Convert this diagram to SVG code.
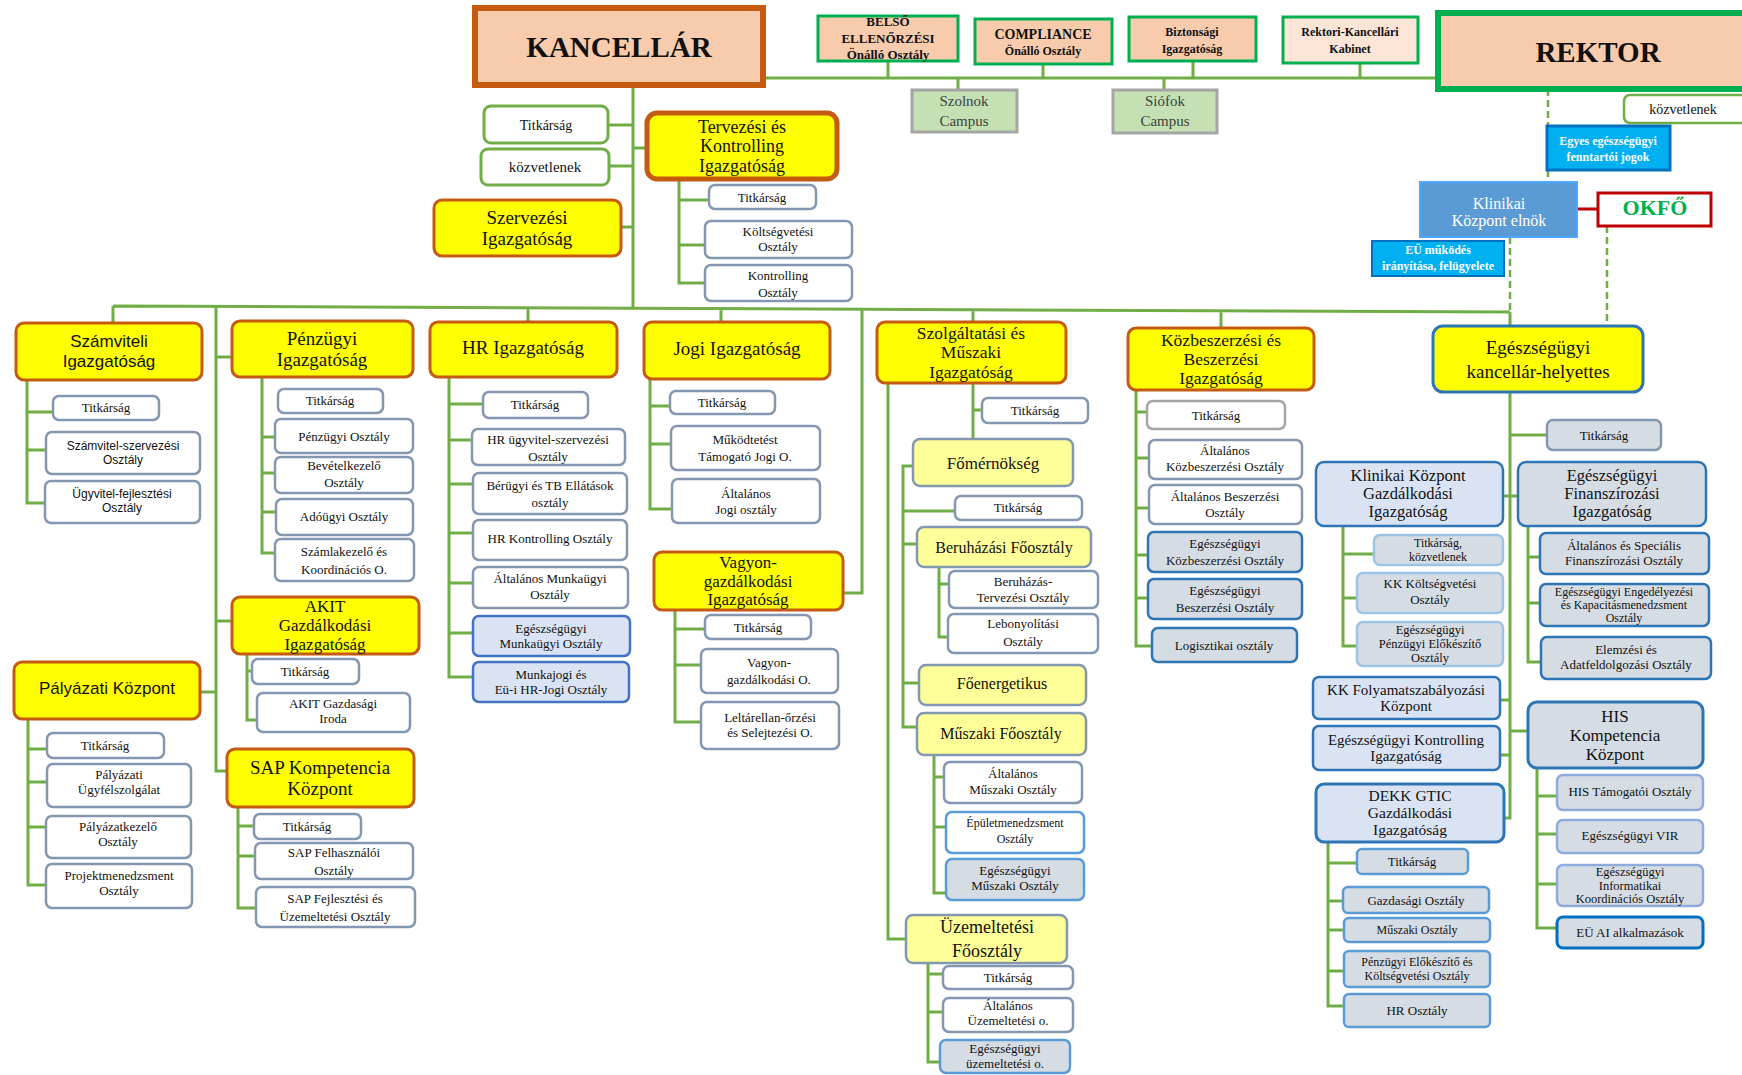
<svg xmlns="http://www.w3.org/2000/svg" width="1742" height="1075" viewBox="0 0 1742 1075">
<style>
text{font-family:"Liberation Serif","Times New Roman",serif;fill:#111;text-anchor:middle}
.sans{font-family:"Liberation Sans",Arial,sans-serif}
.b{font-weight:bold}
.w{fill:#fff}
.f11{font-size:11.5px}.f12{font-size:12px}.f125{font-size:12.5px}.f13{font-size:13px}.f14{font-size:14px}.f15{font-size:15px}.f155{font-size:15.5px}.f16{font-size:16px}.f165{font-size:16.5px}.f17{font-size:17px}.f175{font-size:17.5px}.f18{font-size:18px}.f19{font-size:19px}
.c{fill:none;stroke:#70ad47;stroke-width:3}
.d{fill:none;stroke:#70ad47;stroke-width:2.5;stroke-dasharray:7 4}
.top{fill:#f8cbad;stroke:#00b050;stroke-width:3}
.yb{fill:#ffff00;stroke:#c55a11;stroke-width:3}
.sb{fill:#fff;stroke:#8497b0;stroke-width:2.5}
.lyb{fill:#ffff99;stroke:#8497b0;stroke-width:2.5}
.gb{fill:#d6dce4;stroke:#2e75b6;stroke-width:2.5}
.lbb{fill:#dae3f3;stroke:#2e75b6;stroke-width:2.5}
.gk{fill:#fff;stroke:#70ad47;stroke-width:3}
.cam{fill:#c5e0b3;stroke:#a5a5a5;stroke-width:3}
</style>
<rect width="1742" height="1075" fill="#fff"/>
<g id="connectors">
<path class="c" d="M763,78H1438M888,61V78M1043,64V78M1193,61V78M1360,63V78M958,78V90M1164,78V90"/>
<path class="c" d="M633,85V309M608,125H633M609,166H633M621,227H633M633,148H647"/>
<path class="c" d="M679,179V283H705M679,200H709M679,245H705"/>
<path class="c" d="M113,306L1510,312M113,306V323M528,307.8V322M721,308.6V322M973,309.7V322M1221,310.8V328M1510,312V326"/>
<path class="c" d="M216,306.4V771H227M216,357H232M216,621H232M200,692H216"/>
<path class="c" d="M27,380V503H45M27,412H53M27,450H46"/>
<path class="c" d="M262,377V553H275M262,437H275M262,473H275M262,512H276"/>
<path class="c" d="M247,654V720H257M247,671H252"/>
<path class="c" d="M28,719V885H46M28,749H47M28,782H47M28,827H46"/>
<path class="c" d="M238,807V908H256M238,826H254M238,856H255"/>
<path class="c" d="M449,377V677H473M449,404H483M449,440H472M449,484H473M449,533H473M449,583H473M449,633H473"/>
<path class="c" d="M650,379V509H672M650,406H670M650,444H671"/>
<path class="c" d="M862,309.2V593H843"/>
<path class="c" d="M675,610V722H701M675,629H705M675,665H701"/>
<path class="c" d="M888,383V939H906M973,383V439M973,410H982"/>
<path class="c" d="M913,466H903V727H917M903,511H955M903,544H917M903,683H919"/>
<path class="c" d="M939,567V637H948M939,584H949"/>
<path class="c" d="M934,755V893H946M934,777H944M934,827H946"/>
<path class="c" d="M928,963V1062H940M928,974H943M928,1012H943"/>
<path class="c" d="M1136,390V646H1152M1136,412H1147M1136,458H1149M1136,508H1149M1136,555H1148M1136,598H1148"/>
<path class="c" d="M1510,392V818H1504M1510,435H1547M1503,496H1518M1500,700H1510M1500,755H1510M1510,731H1528"/>
<path class="c" d="M1343,526V646H1357M1343,554H1374M1343,598H1357"/>
<path class="c" d="M1528,526V662H1541M1528,557H1540M1528,603H1540"/>
<path class="c" d="M1328,842V1006H1344M1328,863H1357M1328,901H1343M1328,930H1344M1328,971H1344"/>
<path class="c" d="M1537,768V928H1557M1537,796H1557M1537,834H1557M1537,884H1557"/>
<path class="d" d="M1548,89V126M1548,170V182M1510,237V312M1607,226V326"/>
<path d="M1577,209H1598" fill="none" stroke="#c00000" stroke-width="3"/>
</g>

<g id="n-kancellar"><rect x="475" y="8" width="288" height="77" fill="#f8cbad" stroke="#c55a11" stroke-width="6"/><text class="b" x="619" y="57" style="font-size:29px">KANCELLÁR</text></g>
<g id="n-rektor"><rect x="1438" y="13" width="310" height="76" fill="#f8cbad" stroke="#00b050" stroke-width="6"/><text class="b" x="1598" y="62" style="font-size:29px">REKTOR</text></g>
<g id="n-belso"><rect class="top" x="818" y="16" width="140" height="45"/><text class="b f13"><tspan x="888" y="26">BELSŐ</tspan><tspan x="888" y="43">ELLENŐRZÉSI</tspan><tspan x="888" y="59">Önálló Osztály</tspan></text></g>
<g id="n-compliance"><rect class="top" x="975" y="19" width="137" height="45"/><text class="b"><tspan class="f14" x="1043" y="39">COMPLIANCE</tspan><tspan class="f12" x="1043" y="55">Önálló Osztály</tspan></text></g>
<g id="n-biztonsagi"><rect class="top" x="1129" y="17" width="127" height="44"/><text class="b f12"><tspan x="1192" y="36">Biztonsági</tspan><tspan x="1192" y="53">Igazgatóság</tspan></text></g>
<g id="n-kabinet"><rect class="top" x="1283" y="17" width="135" height="46" style="fill:#fce4d6"/><text class="b f12"><tspan x="1350" y="36">Rektori-Kancellári</tspan><tspan x="1350" y="53">Kabinet</tspan></text></g>
<g id="n-szolnok"><rect class="cam" x="912" y="90" width="105" height="42"/><text class="f15" style="fill:#404040"><tspan x="964" y="106">Szolnok</tspan><tspan x="964" y="126">Campus</tspan></text></g>
<g id="n-siofok"><rect class="cam" x="1113" y="90" width="104" height="43"/><text class="f15" style="fill:#404040"><tspan x="1165" y="106">Siófok</tspan><tspan x="1165" y="126">Campus</tspan></text></g>
<g id="n-r-kozvetlenek"><rect class="gk" x="1624" y="95" width="130" height="28" rx="6" style="stroke-width:2.5"/><text class="f14" x="1683" y="114">közvetlenek</text></g>
<g id="n-egyes"><rect x="1547" y="126" width="123" height="44" fill="#00b0f0" stroke="#0070c0" stroke-width="3"/><text class="b f12 w"><tspan x="1608" y="145">Egyes egészségügyi</tspan><tspan x="1608" y="161">fenntartói jogok</tspan></text></g>
<g id="n-klinikai-elnok"><rect x="1420" y="182" width="157" height="55" fill="#5b9bd5" stroke="#4da6ff" stroke-width="2"/><text class="f16 w"><tspan x="1499" y="209">Klinikai</tspan><tspan x="1499" y="226">Központ elnök</tspan></text></g>
<g id="n-okfo"><rect x="1598" y="193" width="113" height="33" fill="#fff" stroke="#c00000" stroke-width="3"/><text class="b" x="1655" y="215" style="font-size:22px;fill:#00b050">OKFŐ</text></g>
<g id="n-eu-mukodes"><rect x="1372" y="241" width="132" height="35" fill="#00b0f0" stroke="#0070c0" stroke-width="2"/><text class="b f12 w"><tspan x="1438" y="254">EÜ működés</tspan><tspan x="1438" y="270">irányítása, felügyelete</tspan></text></g>

<g id="n-k-titkarsag"><rect class="gk" x="484" y="106" width="124" height="37" rx="7"/><text class="f14" x="546" y="130">Titkárság</text></g>
<g id="n-k-kozvetlenek"><rect class="gk" x="481" y="149" width="128" height="36" rx="7"/><text class="f15" x="545" y="172">közvetlenek</text></g>
<g id="n-szervezesi"><rect class="yb" x="434" y="200" width="187" height="56" rx="8"/><text class="f19"><tspan x="527" y="223.8">Szervezési</tspan><tspan x="527" y="244.8">Igazgatóság</tspan></text></g>
<g id="n-tervezesi"><rect class="yb" x="647" y="113" width="190" height="66" rx="10" style="stroke-width:5"/><text class="f18"><tspan x="742" y="132.5">Tervezési és</tspan><tspan x="742" y="152">Kontrolling</tspan><tspan x="742" y="171.5">Igazgatóság</tspan></text></g>
<g id="n-tk-titkarsag"><rect class="sb" x="709" y="185" width="107" height="24" rx="6"/><text class="f13" x="762" y="202">Titkárság</text></g>
<g id="n-koltsegvetesi"><rect class="sb" x="705" y="221" width="147" height="37" rx="6"/><text class="f13"><tspan x="778" y="236">Költségvetési</tspan><tspan x="778" y="251">Osztály</tspan></text></g>
<g id="n-kontrolling"><rect class="sb" x="705" y="265" width="147" height="36" rx="6"/><text class="f13"><tspan x="778" y="280">Kontrolling</tspan><tspan x="778" y="297">Osztály</tspan></text></g>

<g id="n-szamviteli"><rect class="yb" x="16" y="323" width="186" height="57" rx="8"/><text class="sans f17"><tspan x="109" y="347.4">Számviteli</tspan><tspan x="109" y="366.9">Igazgatóság</tspan></text></g>
<g id="n-sz-titkarsag"><rect class="sb" x="53" y="396" width="106" height="24" rx="6"/><text class="f13" x="106" y="412">Titkárság</text></g>
<g id="n-szamvitel-szerv"><rect class="sb" x="46" y="432" width="154" height="42" rx="6"/><text class="sans f12"><tspan x="123" y="450">Számvitel-szervezési</tspan><tspan x="123" y="464">Osztály</tspan></text></g>
<g id="n-ugyvitel"><rect class="sb" x="45" y="481" width="155" height="42" rx="6"/><text class="sans f12"><tspan x="122" y="498">Ügyvitel-fejlesztési</tspan><tspan x="122" y="512">Osztály</tspan></text></g>

<g id="n-penzugyi"><rect class="yb" x="232" y="321" width="181" height="56" rx="8"/><text class="f19"><tspan x="322" y="344.8">Pénzügyi</tspan><tspan x="322" y="365.8">Igazgatóság</tspan></text></g>
<g id="n-p-titkarsag"><rect class="sb" x="278" y="389" width="105" height="24" rx="6"/><text class="f13" x="330" y="405">Titkárság</text></g>
<g id="n-penzugyi-o"><rect class="sb" x="275" y="419" width="138" height="34" rx="6"/><text class="f13" x="344" y="441">Pénzügyi Osztály</text></g>
<g id="n-bevetel"><rect class="sb" x="275" y="457" width="138" height="36" rx="6"/><text class="f13"><tspan x="344" y="470">Bevételkezelő</tspan><tspan x="344" y="487">Osztály</tspan></text></g>
<g id="n-adougyi"><rect class="sb" x="276" y="499" width="137" height="36" rx="6"/><text class="f13" x="344" y="521">Adóügyi Osztály</text></g>
<g id="n-szamlakezelo"><rect class="sb" x="275" y="539" width="139" height="42" rx="6"/><text class="f13"><tspan x="344" y="556">Számlakezelő és</tspan><tspan x="344" y="574">Koordinációs O.</tspan></text></g>

<g id="n-akit"><rect class="yb" x="232" y="597" width="187" height="57" rx="8"/><text class="f17"><tspan x="325" y="612.4">AKIT</tspan><tspan x="325" y="631.1">Gazdálkodási</tspan><tspan x="325" y="649.8">Igazgatóság</tspan></text></g>
<g id="n-akit-titkarsag"><rect class="sb" x="252" y="659" width="107" height="25" rx="6"/><text class="f13" x="305" y="676">Titkárság</text></g>
<g id="n-akit-iroda"><rect class="sb" x="257" y="693" width="153" height="39" rx="6"/><text class="f13"><tspan x="333" y="708">AKIT Gazdasági</tspan><tspan x="333" y="723">Iroda</tspan></text></g>

<g id="n-palyazati"><rect class="yb" x="14" y="662" width="186" height="57" rx="8"/><text class="sans f17" x="107" y="694">Pályázati Központ</text></g>
<g id="n-pa-titkarsag"><rect class="sb" x="47" y="733" width="117" height="25" rx="6"/><text class="f13" x="105" y="750">Titkárság</text></g>
<g id="n-pa-ugyfel"><rect class="sb" x="47" y="764" width="144" height="43" rx="6"/><text class="f13"><tspan x="119" y="779">Pályázati</tspan><tspan x="119" y="794">Ügyfélszolgálat</tspan></text></g>
<g id="n-pa-kezelo"><rect class="sb" x="46" y="816" width="145" height="42" rx="6"/><text class="f13"><tspan x="118" y="831">Pályázatkezelő</tspan><tspan x="118" y="846">Osztály</tspan></text></g>
<g id="n-pa-projekt"><rect class="sb" x="46" y="864" width="146" height="44" rx="6"/><text class="f13"><tspan x="119" y="880">Projektmenedzsment</tspan><tspan x="119" y="895">Osztály</tspan></text></g>

<g id="n-sap"><rect class="yb" x="227" y="749" width="187" height="58" rx="8"/><text class="f19"><tspan x="320" y="773.8">SAP Kompetencia</tspan><tspan x="320" y="794.8">Központ</tspan></text></g>
<g id="n-sap-titkarsag"><rect class="sb" x="254" y="814" width="107" height="25" rx="6"/><text class="f13" x="307" y="831">Titkárság</text></g>
<g id="n-sap-felh"><rect class="sb" x="255" y="843" width="158" height="36" rx="6"/><text class="f13"><tspan x="334" y="857">SAP Felhasználói</tspan><tspan x="334" y="875">Osztály</tspan></text></g>
<g id="n-sap-fejl"><rect class="sb" x="256" y="887" width="159" height="40" rx="6"/><text class="f13"><tspan x="335" y="903">SAP  Fejlesztési és</tspan><tspan x="335" y="921">Üzemeltetési Osztály</tspan></text></g>

<g id="n-hr"><rect class="yb" x="430" y="322" width="187" height="55" rx="8"/><text class="f19" x="523" y="354">HR Igazgatóság</text></g>
<g id="n-hr-titkarsag"><rect class="sb" x="483" y="392" width="105" height="26" rx="6"/><text class="f13" x="535" y="409">Titkárság</text></g>
<g id="n-hr-ugyvitel"><rect class="sb" x="472" y="429" width="153" height="36" rx="6"/><text class="f13"><tspan x="548" y="444">HR ügyvitel-szervezési</tspan><tspan x="548" y="461">Osztály</tspan></text></g>
<g id="n-berugyi"><rect class="sb" x="473" y="473" width="154" height="41" rx="6"/><text class="f13"><tspan x="550" y="490">Bérügyi és TB Ellátások</tspan><tspan x="550" y="507">osztály</tspan></text></g>
<g id="n-hr-kontrolling"><rect class="sb" x="473" y="520" width="154" height="40" rx="6"/><text class="f13" x="550" y="543">HR Kontrolling Osztály</text></g>
<g id="n-alt-munkaugyi"><rect class="sb" x="473" y="567" width="155" height="41" rx="6"/><text class="f13"><tspan x="550" y="583">Általános  Munkaügyi</tspan><tspan x="550" y="599">Osztály</tspan></text></g>
<g id="n-eu-munkaugyi"><rect x="473" y="616" width="157" height="40" rx="6" fill="#dae3f3" stroke="#4472c4" stroke-width="2.5"/><text class="f13"><tspan x="551" y="632.8">Egészségügyi</tspan><tspan x="551" y="647.8">Munkaügyi Osztály</tspan></text></g>
<g id="n-munkajogi"><rect x="473" y="662" width="156" height="40" rx="6" fill="#dae3f3" stroke="#4472c4" stroke-width="2.5"/><text class="f13"><tspan x="551" y="678.8">Munkajogi és</tspan><tspan x="551" y="693.8">Eü-i HR-Jogi Osztály</tspan></text></g>

<g id="n-jogi"><rect class="yb" x="644" y="322" width="186" height="57" rx="8"/><text class="f19" x="737" y="355">Jogi Igazgatóság</text></g>
<g id="n-j-titkarsag"><rect class="sb" x="670" y="391" width="105" height="23" rx="6"/><text class="f13" x="722" y="407">Titkárság</text></g>
<g id="n-mukodtetest"><rect class="sb" x="671" y="426" width="149" height="44" rx="6"/><text class="f13"><tspan x="745" y="444">Működtetést</tspan><tspan x="745" y="461">Támogató  Jogi O.</tspan></text></g>
<g id="n-alt-jogi"><rect class="sb" x="672" y="479" width="148" height="44" rx="6"/><text class="f13"><tspan x="746" y="498">Általános</tspan><tspan x="746" y="514">Jogi osztály</tspan></text></g>

<g id="n-vagyon"><rect class="yb" x="654" y="552" width="189" height="58" rx="8"/><text class="f17"><tspan x="748" y="567.9">Vagyon-</tspan><tspan x="748" y="586.6">gazdálkodási</tspan><tspan x="748" y="605.3">Igazgatóság</tspan></text></g>
<g id="n-v-titkarsag"><rect class="sb" x="705" y="615" width="106" height="24" rx="6"/><text class="f13" x="758" y="632">Titkárság</text></g>
<g id="n-vagyon-o"><rect class="sb" x="701" y="649" width="137" height="44" rx="6"/><text class="f13"><tspan x="769" y="667">Vagyon-</tspan><tspan x="769" y="684">gazdálkodási  O.</tspan></text></g>
<g id="n-leltar"><rect class="sb" x="701" y="702" width="138" height="47" rx="6"/><text class="f13"><tspan x="770" y="722.3">Leltárellan-őrzési</tspan><tspan x="770" y="737.3">és Selejtezési  O.</tspan></text></g>

<g id="n-szolgaltatasi"><rect class="yb" x="877" y="322" width="189" height="61" rx="8"/><text class="f175"><tspan x="971" y="339">Szolgáltatási  és</tspan><tspan x="971" y="358.3">Műszaki</tspan><tspan x="971" y="377.6">Igazgatóság</tspan></text></g>
<g id="n-szm-titkarsag"><rect class="sb" x="982" y="398" width="106" height="25" rx="6"/><text class="f13" x="1035" y="415">Titkárság</text></g>
<g id="n-fomernokseg"><rect class="lyb" x="913" y="439" width="160" height="47" rx="7"/><text class="f17" x="993" y="469">Főmérnökség</text></g>
<g id="n-fm-titkarsag"><rect class="sb" x="955" y="496" width="127" height="24" rx="6"/><text class="f13" x="1018" y="512">Titkárság</text></g>
<g id="n-beruhazasi"><rect class="lyb" x="917" y="527" width="174" height="40" rx="7"/><text class="f16" x="1004" y="553">Beruházási  Főosztály</text></g>
<g id="n-beruhazas-terv"><rect class="sb" x="949" y="571" width="149" height="37" rx="6"/><text class="f13"><tspan x="1023" y="586">Beruházás-</tspan><tspan x="1023" y="602">Tervezési Osztály</tspan></text></g>
<g id="n-lebonyolitasi"><rect class="sb" x="948" y="614" width="150" height="39" rx="6"/><text class="f13"><tspan x="1023" y="628">Lebonyolítási</tspan><tspan x="1023" y="646">Osztály</tspan></text></g>
<g id="n-foenergetikus"><rect class="lyb" x="919" y="665" width="167" height="40" rx="7"/><text class="f16" x="1002" y="689">Főenergetikus</text></g>
<g id="n-muszaki-fo"><rect class="lyb" x="917" y="713" width="169" height="42" rx="7"/><text class="f16" x="1001" y="739">Műszaki  Főosztály</text></g>
<g id="n-alt-muszaki"><rect class="sb" x="944" y="762" width="138" height="41" rx="6"/><text class="f13"><tspan x="1013" y="778">Általános</tspan><tspan x="1013" y="794">Műszaki Osztály</tspan></text></g>
<g id="n-epulet"><rect x="946" y="812" width="138" height="41" rx="6" fill="#fff" stroke="#5b9bd5" stroke-width="2.5"/><text class="f12"><tspan x="1015" y="827">Épületmenedzsment</tspan><tspan x="1015" y="843">Osztály</tspan></text></g>
<g id="n-eu-muszaki"><rect x="946" y="859" width="138" height="41" rx="6" fill="#d6dce4" stroke="#5b9bd5" stroke-width="2.5"/><text class="f13"><tspan x="1015" y="875">Egészségügyi</tspan><tspan x="1015" y="890">Műszaki  Osztály</tspan></text></g>
<g id="n-uzemeltetesi-fo"><rect class="lyb" x="906" y="915" width="161" height="48" rx="7"/><text class="f18"><tspan x="987" y="933">Üzemeltetési</tspan><tspan x="987" y="957">Főosztály</tspan></text></g>
<g id="n-uz-titkarsag"><rect class="sb" x="943" y="966" width="130" height="23" rx="6"/><text class="f13" x="1008" y="982">Titkárság</text></g>
<g id="n-alt-uzem"><rect class="sb" x="943" y="998" width="130" height="34" rx="6"/><text class="f13"><tspan x="1008" y="1010">Általános</tspan><tspan x="1008" y="1025">Üzemeltetési  o.</tspan></text></g>
<g id="n-eu-uzem"><rect x="940" y="1040" width="130" height="33" rx="6" fill="#d6dce4" stroke="#5b9bd5" stroke-width="2.5"/><text class="f13"><tspan x="1005" y="1053.3">Egészségügyi</tspan><tspan x="1005" y="1068.3">üzemeltetési o.</tspan></text></g>

<g id="n-kozbeszerzesi"><rect class="yb" x="1128" y="328" width="186" height="62" rx="8"/><text class="f175"><tspan x="1221" y="345.5">Közbeszerzési  és</tspan><tspan x="1221" y="364.8">Beszerzési</tspan><tspan x="1221" y="384.1">Igazgatóság</tspan></text></g>
<g id="n-kb-titkarsag"><rect x="1147" y="401" width="138" height="28" rx="6" fill="#fff" stroke="#a5a5a5" stroke-width="2.5"/><text class="f13" x="1216" y="420">Titkárság</text></g>
<g id="n-alt-kozbesz"><rect class="sb" x="1149" y="440" width="153" height="39" rx="6"/><text class="f13"><tspan x="1225" y="455">Általános</tspan><tspan x="1225" y="471">Közbeszerzési  Osztály</tspan></text></g>
<g id="n-alt-besz"><rect class="sb" x="1149" y="485" width="153" height="39" rx="6"/><text class="f13"><tspan x="1225" y="501">Általános  Beszerzési</tspan><tspan x="1225" y="517">Osztály</tspan></text></g>
<g id="n-eu-kozbesz"><rect class="gb" x="1148" y="532" width="154" height="40" rx="6"/><text class="f13"><tspan x="1225" y="548">Egészségügyi</tspan><tspan x="1225" y="565">Közbeszerzési  Osztály</tspan></text></g>
<g id="n-eu-besz"><rect class="gb" x="1148" y="579" width="154" height="40" rx="6"/><text class="f13"><tspan x="1225" y="595">Egészségügyi</tspan><tspan x="1225" y="612">Beszerzési  Osztály</tspan></text></g>
<g id="n-logisztikai"><rect class="gb" x="1152" y="628" width="145" height="34" rx="6"/><text class="f13" x="1224" y="650">Logisztikai  osztály</text></g>

<g id="n-eu-kh"><rect x="1433" y="326" width="210" height="66" rx="10" fill="#ffff00" stroke="#2e75b6" stroke-width="3"/><text class="f19"><tspan x="1538" y="354">Egészségügyi</tspan><tspan x="1538" y="378">kancellár-helyettes</tspan></text></g>
<g id="n-eu-titkarsag"><rect x="1547" y="420" width="114" height="30" rx="6" fill="#d6dce4" stroke="#8497b0" stroke-width="2.5"/><text class="f13" x="1604" y="440">Titkárság</text></g>
<g id="n-kk-gazd"><rect class="lbb" x="1316" y="462" width="187" height="64" rx="8"/><text class="f165"><tspan x="1408" y="481.4">Klinikai Központ</tspan><tspan x="1408" y="499.4">Gazdálkodási</tspan><tspan x="1408" y="517.4">Igazgatóság</tspan></text></g>
<g id="n-eu-finansz"><rect class="gb" x="1518" y="462" width="188" height="64" rx="8"/><text class="f165"><tspan x="1612" y="481.4">Egészségügyi</tspan><tspan x="1612" y="499.4">Finanszírozási</tspan><tspan x="1612" y="517.4">Igazgatóság</tspan></text></g>
<g id="n-kk-titkarsag"><rect x="1374" y="535" width="129" height="30" rx="6" fill="#d6dce4" stroke="#9dc3e6" stroke-width="2.5"/><text class="f12"><tspan x="1438" y="547">Titkárság,</tspan><tspan x="1438" y="561">közvetlenek</tspan></text></g>
<g id="n-kk-koltseg"><rect x="1357" y="573" width="146" height="40" rx="6" fill="#d6dce4" stroke="#9dc3e6" stroke-width="2.5"/><text class="f13"><tspan x="1430" y="588">KK Költségvetési</tspan><tspan x="1430" y="604">Osztály</tspan></text></g>
<g id="n-eu-penz-elok"><rect x="1357" y="622" width="146" height="44" rx="6" fill="#d6dce4" stroke="#9dc3e6" stroke-width="2.5"/><text class="f125"><tspan x="1430" y="634.1">Egészségügyi</tspan><tspan x="1430" y="648.1">Pénzügyi Előkészítő</tspan><tspan x="1430" y="662.1">Osztály</tspan></text></g>
<g id="n-alt-spec"><rect class="gb" x="1540" y="533" width="169" height="41" rx="6"/><text class="f13"><tspan x="1624" y="550">Általános és Speciális</tspan><tspan x="1624" y="565">Finanszírozási  Osztály</tspan></text></g>
<g id="n-eu-engedely"><rect class="gb" x="1540" y="584" width="169" height="42" rx="6"/><text class="f12"><tspan x="1624" y="595.7">Egészségügyi Engedélyezési</tspan><tspan x="1624" y="609">és Kapacitásmenedzsment</tspan><tspan x="1624" y="622.3">Osztály</tspan></text></g>
<g id="n-elemzesi"><rect class="gb" x="1541" y="637" width="170" height="42" rx="6"/><text class="f13"><tspan x="1626" y="654">Elemzési és</tspan><tspan x="1626" y="669">Adatfeldolgozási  Osztály</tspan></text></g>
<g id="n-kk-folyamat"><rect class="lbb" x="1313" y="677" width="187" height="42" rx="6"/><text class="f15"><tspan x="1406" y="694.7">KK Folyamatszabályozási</tspan><tspan x="1406" y="711.2">Központ</tspan></text></g>
<g id="n-eu-kontrolling"><rect class="lbb" x="1313" y="726" width="187" height="44" rx="6"/><text class="f15"><tspan x="1406" y="744.7">Egészségügyi Kontrolling</tspan><tspan x="1406" y="761.2">Igazgatóság</tspan></text></g>
<g id="n-dekk"><rect class="lbb" x="1316" y="784" width="188" height="58" rx="8" style="stroke-width:3"/><text class="f155"><tspan x="1410" y="801.1">DEKK GTIC</tspan><tspan x="1410" y="818.1">Gazdálkodási</tspan><tspan x="1410" y="835.1">Igazgatóság</tspan></text></g>
<g id="n-dekk-titkarsag"><rect x="1357" y="849" width="111" height="25" rx="5" fill="#d6dce4" stroke="#5b9bd5" stroke-width="2.5"/><text class="f13" x="1412" y="866">Titkárság</text></g>
<g id="n-dekk-gazd"><rect x="1343" y="887" width="146" height="26" rx="5" fill="#d6dce4" stroke="#5b9bd5" stroke-width="2.5"/><text class="f13" x="1416" y="905">Gazdasági  Osztály</text></g>
<g id="n-dekk-musz"><rect x="1344" y="918" width="146" height="24" rx="5" fill="#d6dce4" stroke="#5b9bd5" stroke-width="2.5"/><text class="f12" x="1417" y="934">Műszaki  Osztály</text></g>
<g id="n-dekk-penz"><rect x="1344" y="951" width="146" height="36" rx="5" fill="#d6dce4" stroke="#5b9bd5" stroke-width="2.5"/><text class="f12"><tspan x="1417" y="966.2">Pénzügyi Előkészítő  és</tspan><tspan x="1417" y="979.7">Költségvetési  Osztály</tspan></text></g>
<g id="n-dekk-hr"><rect x="1344" y="994" width="146" height="33" rx="5" fill="#d6dce4" stroke="#5b9bd5" stroke-width="2.5"/><text class="f13" x="1417" y="1015">HR Osztály</text></g>
<g id="n-his"><rect class="gb" x="1528" y="702" width="175" height="66" rx="9" style="stroke-width:3"/><text class="f17"><tspan x="1615" y="721.6">HIS</tspan><tspan x="1615" y="740.6">Kompetencia</tspan><tspan x="1615" y="759.6">Központ</tspan></text></g>
<g id="n-his-tam"><rect x="1557" y="775" width="146" height="35" rx="6" fill="#d6dce4" stroke="#8faadc" stroke-width="2.5"/><text class="f13" x="1630" y="796">HIS Támogatói  Osztály</text></g>
<g id="n-eu-vir"><rect x="1557" y="820" width="146" height="33" rx="6" fill="#d6dce4" stroke="#8faadc" stroke-width="2.5"/><text class="f13" x="1630" y="840">Egészségügyi VIR</text></g>
<g id="n-eu-info"><rect x="1557" y="865" width="146" height="41" rx="6" fill="#d6dce4" stroke="#8faadc" stroke-width="2.5"/><text class="f125"><tspan x="1630" y="875.8">Egészségügyi</tspan><tspan x="1630" y="889.6">Informatikai</tspan><tspan x="1630" y="903.4">Koordinációs  Osztály</tspan></text></g>
<g id="n-eu-ai"><rect x="1557" y="917" width="146" height="31" rx="6" fill="#d6dce4" stroke="#0070c0" stroke-width="3"/><text class="f13" x="1630" y="937">EÜ AI alkalmazások</text></g>
</svg>
